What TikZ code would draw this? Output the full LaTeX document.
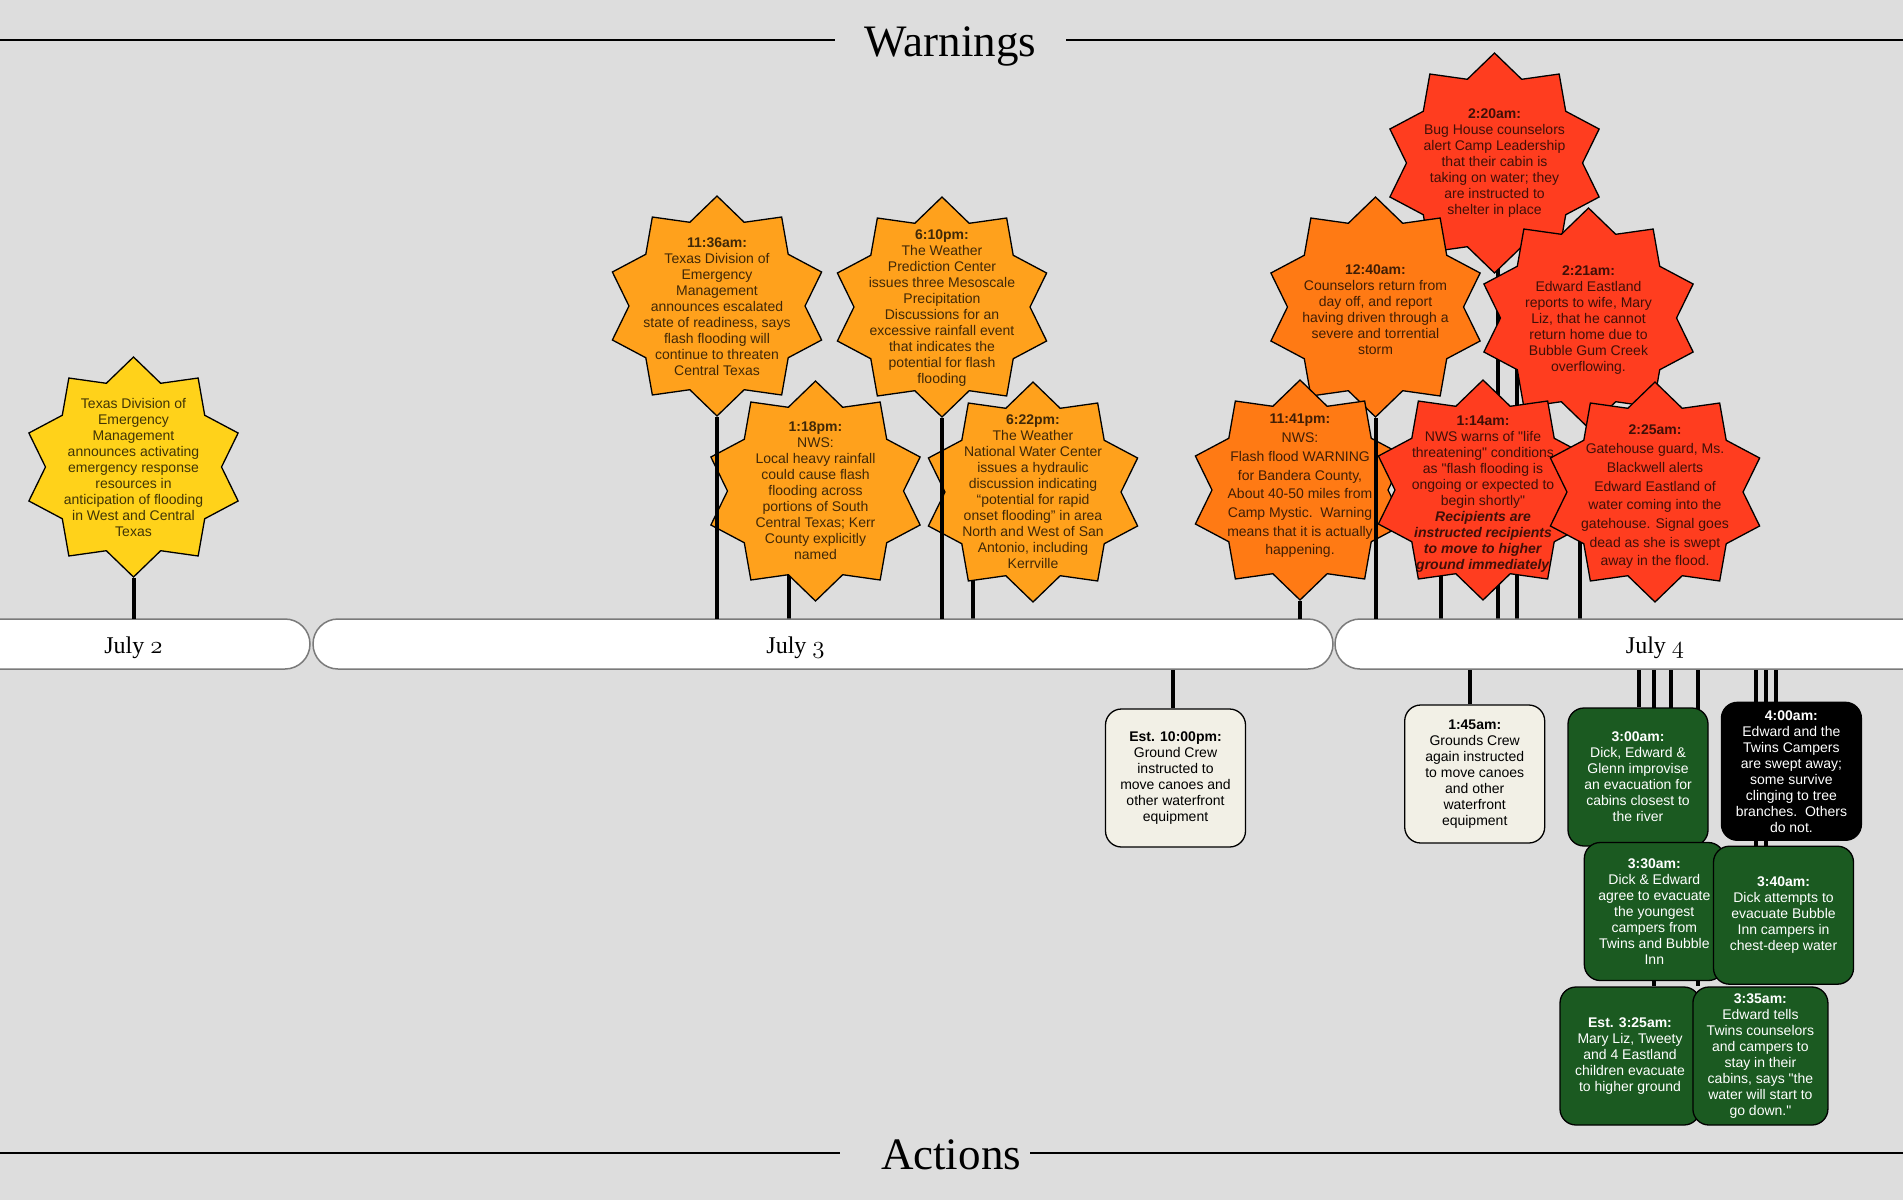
\documentclass[tikz,border=0pt]{standalone}
\usepackage{fontspec}
\newfontfamily\bodyfont{Liberation Sans}
\newfontfamily\headfont{Liberation Serif}
\usetikzlibrary{shapes.geometric}
\definecolor{paperGray}{HTML}{DDDDDD}
\definecolor{barGray}{HTML}{7A7A7A}
\definecolor{warnYellow}{HTML}{FFD21A}
\definecolor{warnOrange}{HTML}{FFA11C}
\definecolor{warnDeep}{HTML}{FF7A14}
\definecolor{warnRed}{HTML}{FF3D1F}
\definecolor{actCream}{HTML}{F2F0E6}
\definecolor{actGreen}{HTML}{1B5A21}
\newcommand{\osnum}[1]{{\usefont{OML}{cmm}{m}{it}#1}}
\pgfdeclarelayer{back}
\pgfdeclarelayer{stems}
\pgfsetlayers{back,stems,main}

\begin{document}
\begin{tikzpicture}[
    x=1pt, y=-1pt,
    heading/.style={font=\headfont\fontsize{45}{50}\selectfont, inner xsep=30pt, inner ysep=0pt},
    rule/.style={line width=1.3pt, black},
    daybar/.style={draw=barGray, fill=white, line width=1.5pt, rounded corners=25pt,
      minimum height=50pt, inner sep=0pt},
    daylabel/.style={font=\headfont\fontsize{24}{28}\selectfont, anchor=base, inner sep=0pt},
    warnstar/.style={star, star points=10, star point ratio=1.25, minimum size=220pt,
      inner sep=0pt, draw=black, line width=1.3pt},
    warntext/.style={align=center, font=\bodyfont\fontsize{14}{16}\selectfont,
      text=black, text opacity=0.75, inner sep=0pt},
    warnloose/.style={warntext, font=\bodyfont\fontsize{14}{18.7}\selectfont},
    actbox/.style={draw=black, line width=1.3pt, rounded corners=16pt, minimum width=140pt,
      minimum height=138pt, align=center, font=\bodyfont\fontsize{14}{16}\selectfont, inner sep=2pt},
    creambox/.style={actbox, fill=actCream, text=black},
    greenbox/.style={actbox, fill=actGreen, text=white},
    blackbox/.style={actbox, fill=black, text=white},
    stem/.style={line width=4pt, black}
  ]
  \path[use as bounding box] (0,0) rectangle (1903,1200);
  \begin{pgfonlayer}{back}
    \fill[paperGray] (0,0) rectangle (1903,1200);
  \end{pgfonlayer}

  % headings
  \node[heading, anchor=base] (warnhead) at (950.5,56) {Warnings};
  \coordinate (warnL) at (0,40);
  \coordinate (warnR) at (1903,40);
  \draw[rule] (warnL) -- (warnL -| warnhead.west);
  \draw[rule] (warnL -| warnhead.east) -- (warnR);

  \node[heading, anchor=base, inner xsep=9pt] (acthead) at (951,1169) {Actions};
  \coordinate (actL) at (0,1153);
  \coordinate (actR) at (1903,1153);
  \draw[rule] (actL) -- ([xshift=-32pt]actL -| acthead.west);
  \draw[rule] (actL -| acthead.east) -- (actR);

  % days
  \node[daybar, minimum width=354pt] (jul2) at (133,644) {};
  \node[daybar, minimum width=1020pt] (jul3) at (823,644) {};
  \node[daybar, minimum width=640pt] (jul4) at (1655,644) {};
  \node[daylabel] (jul2txt) at (133.5,653) {July \osnum{2}};
  \node[daylabel] (jul3txt) at (795.5,653) {July \osnum{3}};
  \node[daylabel] (jul4txt) at (1655,653) {July \osnum{4}};

  % feet of the stems on the bar
  \coordinate (s0702) at (133.5,619);
  \coordinate (s1136) at (717,619);
  \coordinate (s1318) at (789,619);
  \coordinate (s1810) at (942,619);
  \coordinate (s1822) at (973.4,619);
  \coordinate (s2341) at (1300,619);
  \coordinate (s0040) at (1375.5,619);
  \coordinate (s0114) at (1440.7,619);
  \coordinate (s0220) at (1497.7,619);
  \coordinate (s0221) at (1517.1,619);
  \coordinate (s0225) at (1580.2,619);

  \coordinate (a2200) at (1172.5,669);
  \coordinate (a0145) at (1469.8,669);
  \coordinate (a0300) at (1638.5,669);
  \coordinate (a0325) at (1654.3,669);
  \coordinate (a0330) at (1671.3,669);
  \coordinate (a0335) at (1698,669);
  \coordinate (a0340) at (1756.2,669);
  \coordinate (a0340b) at (1766,669);
  \coordinate (a0400) at (1775.6,669);

  % warnings
  \node[warnstar, fill=warnYellow] (w0702) at (133.5,467) {};
  \node[warnstar, fill=warnOrange] (w1136) at (717,306) {};
  \node[warnstar, fill=warnOrange] (w1810) at (942,307) {};
  \node[warnstar, fill=warnOrange] (w1318) at (815.5,491) {};
  \node[warnstar, fill=warnOrange] (w1822) at (1033,492) {};
  \node[warnstar, fill=warnRed] (w0220) at (1494.5,163) {};
  \node[warnstar, fill=warnRed] (w0221) at (1588.5,318) {};
  \node[warnstar, fill=warnDeep] (w0040) at (1375.5,307) {};
  \node[warnstar, fill=warnDeep] (w2341) at (1300,490) {};
  \node[warnstar, fill=warnRed] (w0114) at (1483,490) {};
  \node[warnstar, fill=warnRed] (w0225) at (1655,492) {};

  \draw[stem] (w0702.south) -- (s0702);
  \draw[stem] (w1136.south) -- (s1136);
  \draw[stem] (w1810.south) -- (s1810);
  \draw[stem] (w2341.south) -- (s2341);
  \draw[stem] (w0040.south) -- (s0040);

  \node[warntext] (t0702) at (w0702) {Texas Division of\\Emergency\\Management\\announces activating\\emergency response\\resources in\\anticipation of flooding\\in West and Central\\Texas};
  \node[warntext, yshift=-1pt] (t1136) at (w1136) {\textbf{11:36am:}\\Texas Division of\\Emergency\\Management\\announces escalated\\state of readiness, says\\flash flooding will\\continue to threaten\\Central Texas};
  \node[warntext, yshift=-1pt] (t1810) at (w1810) {\textbf{6:10pm:}\\The Weather\\Prediction Center\\issues three Mesoscale\\Precipitation\\Discussions for an\\excessive rainfall event\\that indicates the\\potential for flash\\flooding};
  \node[warntext] (t1318) at (w1318) {\textbf{1:18pm:}\\NWS:\\Local heavy rainfall\\could cause flash\\flooding across\\portions of South\\Central Texas; Kerr\\County explicitly\\named};
  \node[warntext] (t1822) at (w1822) {\textbf{6:22pm:}\\The Weather\\National Water Center\\issues a hydraulic\\discussion indicating\\“potential for rapid\\onset flooding” in area\\North and West of San\\Antonio, including\\Kerrville};
  \node[warntext] (t0220) at (w0220) {\textbf{2:20am:}\\Bug House counselors\\alert Camp Leadership\\that their cabin is\\taking on water; they\\are instructed to\\shelter in place};
  \node[warntext, yshift=-2pt] (t0221) at (w0221) {\textbf{2:21am:}\\Edward Eastland\\reports to wife, Mary\\Liz, that he cannot\\return home due to\\Bubble Gum Creek\\overflowing.};
  \node[warntext, yshift=-3pt] (t0040) at (w0040) {\textbf{12:40am:}\\Counselors return from\\day off, and report\\having driven through a\\severe and torrential\\storm};
  \node[warnloose, yshift=4pt] (t2341) at (w2341) {\textbf{11:41pm:}\\NWS:\\Flash flood WARNING\\for Bandera County,\\About 40-50 miles from\\Camp Mystic.\ \ Warning\\means that it is actually\\happening.};
  \node[warntext, yshift=-4pt] (t0114) at (w0114) {\textbf{1:14am:}\\NWS warns of "life\\threatening" conditions\\as "flash flooding is\\ongoing or expected to\\begin shortly"\\\textbf{\textit{Recipients are}}\\\textbf{\textit{instructed recipients}}\\\textbf{\textit{to move to higher}}\\\textbf{\textit{ground immediately}}};
  \node[warnloose, yshift=-5pt] (t0225) at (w0225) {\textbf{2:25am:}\\Gatehouse guard, Ms.\\Blackwell alerts\\Edward Eastland of\\water coming into the\\gatehouse. Signal goes\\dead as she is swept\\away in the flood.};

  % actions
  \node[creambox] (b2200) at (1175.5,778) {\textbf{Est. 10:00pm:}\\Ground Crew\\instructed to\\move canoes and\\other waterfront\\equipment};
  \node[creambox] (b0145) at (1474.7,774) {\textbf{1:45am:}\\Grounds Crew\\again instructed\\to move canoes\\and other\\waterfront\\equipment};
  \node[greenbox] (b0300) at (1638,777) {\textbf{3:00am:}\\Dick, Edward \&\\Glenn improvise\\an evacuation for\\cabins closest to\\the river};
  \node[greenbox] (b0330) at (1654.3,911.5) {\textbf{3:30am:}\\Dick \& Edward\\agree to evacuate\\the youngest\\campers from\\Twins and Bubble\\Inn};
  \node[blackbox] (b0400) at (1791.4,771.3) {\textbf{4:00am:}\\Edward and the\\Twins Campers\\are swept away;\\some survive\\clinging to tree\\branches.\ \ Others\\do not.};
  \node[greenbox] (b0340) at (1783.5,915.2) {\textbf{3:40am:}\\Dick attempts to\\evacuate Bubble\\Inn campers in\\chest-deep water};
  \node[greenbox] (b0325) at (1630,1056) {\textbf{Est. 3:25am:}\\Mary Liz, Tweety\\and 4 Eastland\\children evacuate\\to higher ground};
  \node[greenbox, minimum width=135pt] (b0335) at (1760.4,1056) {\textbf{3:35am:}\\Edward tells\\Twins counselors\\and campers to\\stay in their\\cabins, says "the\\water will start to\\go down."};

  % stems behind the shapes
  \begin{pgfonlayer}{stems}
    \draw[stem] (s1318 |- w1318.center) -- (s1318);
    \draw[stem] (s1822 |- w1822.center) -- (s1822);
    \draw[stem] (s0114 |- w0114.center) -- (s0114);
    \draw[stem] (s0220 |- w0220.center) -- (s0220);
    \draw[stem] (s0221 |- w0221.center) -- (s0221);
    \draw[stem] (s0225 |- w0225.center) -- (s0225);
    \draw[stem] (a2200) -- (a2200 |- b2200.north);
    \draw[stem] (a0145) -- (a0145 |- b0145.north);
    \draw[stem] (a0300) -- (a0300 |- b0300.north);
    \draw[stem] (a0325) -- (a0325 |- b0325.north);
    \draw[stem] (a0330) -- (a0330 |- b0330.north);
    \draw[stem] (a0335) -- (a0335 |- b0335.north);
    \draw[stem] (a0340) -- (a0340 |- b0340.north);
    \draw[stem] (a0340b) -- (a0340b |- b0340.north);
    \draw[stem] (a0400) -- (a0400 |- b0400.north);
  \end{pgfonlayer}
\end{tikzpicture}
\end{document}
